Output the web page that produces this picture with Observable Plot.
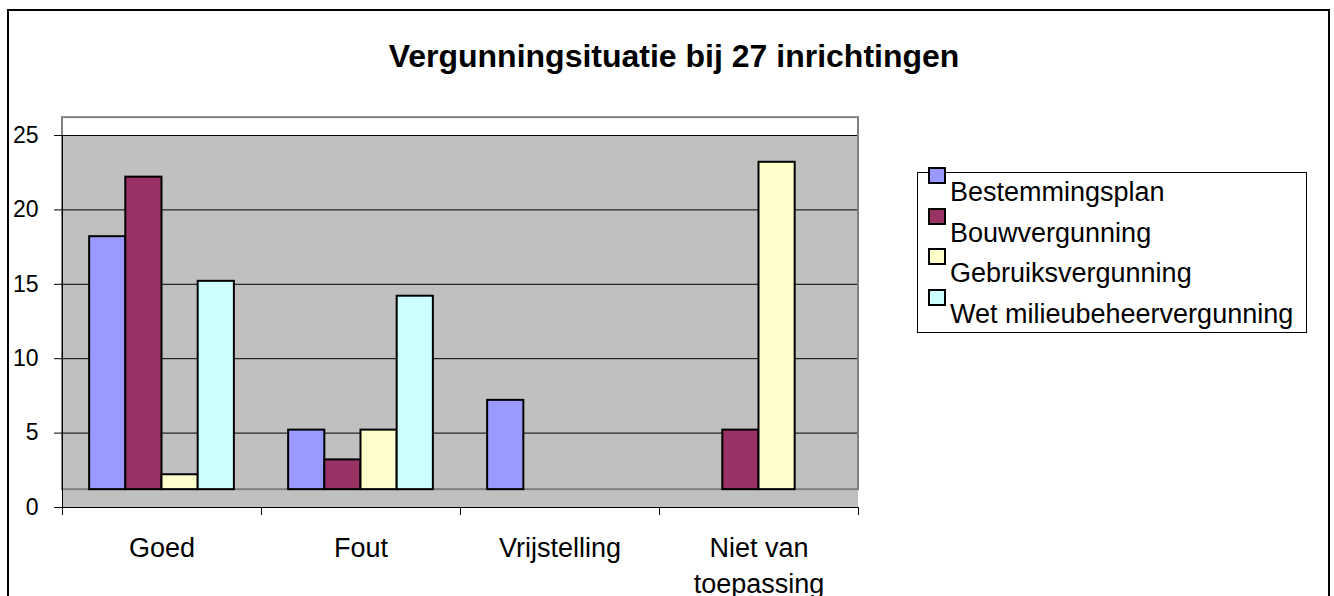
<!DOCTYPE html>
<html>
<head>
<meta charset="utf-8">
<script src="https://cdn.jsdelivr.net/npm/d3@7"></script>
<script src="https://cdn.jsdelivr.net/npm/@observablehq/plot@0.6"></script>
<style>
  html, body { margin: 0; padding: 0; background: #fff; }
  body { width: 1334px; height: 596px; overflow: hidden; font-family: "Liberation Sans", Arial, sans-serif; color: #000; }
  #wrap { position: relative; width: 1334px; height: 596px; }
  #border { position: absolute; left: 7px; top: 9px; width: 1323px; height: 620px; border: 2px solid #000; box-sizing: border-box; }
  #title { position: absolute; left: 674px; top: 38px; transform: translateX(-50%); white-space: nowrap;
           font-weight: bold; font-size: 32px; line-height: 37px; }
  #chart { position: absolute; left: 0; top: 100px; }
  #legend { position: absolute; left: 917px; top: 172px; width: 390px; height: 161px; border: 1px solid #000; box-sizing: border-box; }
  .sw { position: absolute; width: 18px; height: 17px; border: 2px solid #000; box-sizing: border-box; }
  .lt { position: absolute; font-size: 27px; line-height: 30px; white-space: nowrap; }
</style>
</head>
<body>
<div id="wrap">
  <div id="border"></div>
  <div id="title"></div>
  <div id="chart"></div>
  <div id="legend"></div>
  <div id="legendItems"></div>
</div>
<script>
// ---- data ----
const title = "Vergunningsituatie bij 27 inrichtingen";
const categories = ["Goed", "Fout", "Vrijstelling", "Niet van toepassing"];
const categoryLabels = ["Goed", "Fout", "Vrijstelling", "Niet van\ntoepassing"];
const series = ["Bestemmingsplan", "Bouwvergunning", "Gebruiksvergunning", "Wet milieubeheervergunning"];
const bestemmingsplan = [17, 4, 6, 0];
const bouwvergunning = [21, 2, 0, 4];
const gebruiksvergunning = [1, 4, 0, 22];
const wetMilieubeheer = [14, 13, 0, 0];
const yTicks = [0, 5, 10, 15, 20, 25];
const colors = ["#9999FF", "#993366", "#FFFFCC", "#CCFFFF"];

// ---- styling constants ----
const DEPTH = 1.2;          // 3D wall offset in value units
const GAP = 1.5;            // Excel gap width (in bar widths)
const slot = series.length + GAP;

const valuesBySeries = [bestemmingsplan, bouwvergunning, gebruiksvergunning, wetMilieubeheer];
const rows = [];
categories.forEach((c, i) => {
  series.forEach((s, j) => {
    rows.push({category: c, ci: i, series: s, sj: j, value: valuesBySeries[j][i]});
  });
});
const bars = rows.filter(d => d.value > 0);
const yMax = d3.max(yTicks);
const nCat = categories.length;

document.getElementById("title").textContent = title;

const chart = Plot.plot({
  width: 1334,
  height: 496,
  marginTop: 35,
  marginBottom: 89,
  marginLeft: 62,
  marginRight: 476,
  x: {domain: [0, nCat]},
  y: {domain: [0, yMax]},
  style: {fontFamily: "'Liberation Sans', Arial, sans-serif", fontSize: "23px", background: "transparent", color: "#000", overflow: "visible"},
  marks: [
    // floor + lower wall
    Plot.rect([0], {x1: 0, x2: nCat, y1: 0, y2: yMax, fill: "#C0C0C0"}),
    // top strip of the wall above max tick
    Plot.rect([0], {x1: 0, x2: nCat, y1: yMax, y2: yMax + DEPTH, fill: "#FFFFFF"}),
    // gridlines
    Plot.ruleY(yTicks.filter(t => t > 0), {stroke: "#000", strokeWidth: 1}),
    // wall outline
    Plot.rect([0], {x1: 0, x2: nCat, y1: DEPTH, y2: yMax + DEPTH, fill: "none", stroke: "#808080", strokeWidth: 2}),
    // bars
    Plot.rect(bars, {
      x1: d => d.ci + (GAP / 2 + d.sj) / slot,
      x2: d => d.ci + (GAP / 2 + d.sj + 1) / slot,
      y1: DEPTH,
      y2: d => d.value + DEPTH,
      fill: d => colors[d.sj],
      stroke: "#000",
      strokeWidth: 2
    }),
    // axis lines
    Plot.ruleY([0], {stroke: "#000", strokeWidth: 1}),
    Plot.ruleX([0], {y1: 0, y2: yMax, stroke: "#000", strokeWidth: 1}),
    Plot.axisY({ticks: yTicks, tickSize: 8, tickPadding: 16, fontSize: 23, label: null, stroke: "#000"}),
    Plot.axisX({ticks: d3.range(nCat + 1), tickFormat: () => "", tickSize: 8, label: null, stroke: "#000"}),
    // category labels
    Plot.text(categoryLabels, {
      x: (d, i) => i + 0.5,
      frameAnchor: "bottom",
      lineAnchor: "top",
      dy: 25,
      fontSize: 27,
      lineHeight: 1.3,
      text: d => d,
      fill: "#000"
    })
  ]
});
document.getElementById("chart").appendChild(chart);

// legend
const li = document.getElementById("legendItems");
series.forEach((s, k) => {
  const sw = document.createElement("div");
  sw.className = "sw";
  sw.style.left = "928px";
  sw.style.top = (167 + k * 40.7) + "px";
  sw.style.background = colors[k];
  li.appendChild(sw);
  const t = document.createElement("div");
  t.className = "lt";
  t.style.left = "950px";
  t.style.top = (177 + k * 40.7) + "px";
  t.textContent = s;
  li.appendChild(t);
});
</script>
</body>
</html>
